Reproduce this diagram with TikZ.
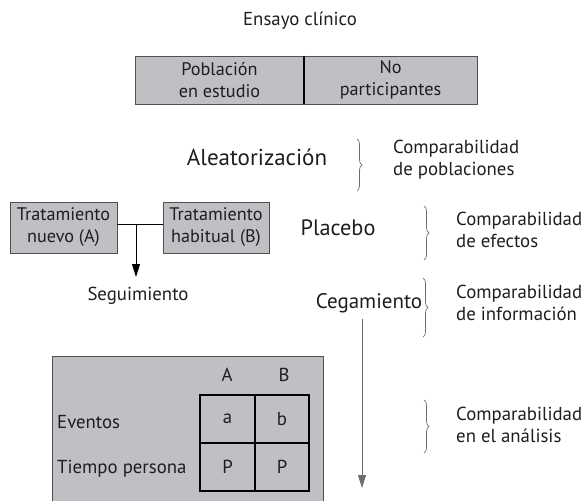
\documentclass[tikz,border=0pt]{standalone}
\usepackage{fontspec}
\setmainfont{PT Sans}
\usetikzlibrary{decorations.pathreplacing,arrows.meta}
\definecolor{boxgray}{RGB}{191,192,196}
\definecolor{edgegray}{RGB}{80,80,80}
\definecolor{linegray}{RGB}{110,110,110}
\definecolor{ink}{RGB}{30,30,30}
\begin{document}
\begin{tikzpicture}[x=1pt,y=-1pt,
  every node/.style={text=ink, inner sep=0pt},
  lbl/.style={font=\fontsize{18.8}{22}\selectfont, align=left},
  boxtxt/.style={font=\fontsize{18.8}{22}\selectfont, align=center},
  grbox/.style={draw=edgegray, line width=0.8pt, fill=boxgray, align=center, font=\fontsize{18.2}{22}\selectfont},
  cell/.style={draw=black, line width=2pt, minimum width=54.5pt, minimum height=48pt, font=\fontsize{18.8}{22}\selectfont},
  brc/.style={draw=linegray, line width=0.7pt, decorate, decoration={brace, amplitude=5pt}},
  arr/.style={-{Triangle[length=13pt,width=8pt]}, line width=0.8pt}
]
\useasboundingbox (0,0) rectangle (585,501);

% title
\node[boxtxt] (title) at (300,21) {Ensayo clínico};

% top box
\node[grbox, minimum width=169pt, minimum height=48pt] (pop) at (219.5,80) {Población\\en estudio};
\node[grbox, minimum width=173pt, minimum height=48pt] (nop) at (390.5,80) {No\\participantes};
\draw[line width=2pt] (pop.north east) -- (pop.south east);

% Aleatorizacion
\node[font=\fontsize{23}{26}\selectfont] (ale) at (257,157) {Aleatorización};
\draw[brc] (357,139) -- (357,191);
\node[lbl, anchor=west] (c1) at (393,160) {Comparabilidad\\de poblaciones};

% treatments
\node[grbox, minimum width=107pt, minimum height=51pt] (A) at (63.5,227.5) {Tratamiento\\nuevo (A)};
\node[grbox, minimum width=106pt, minimum height=51pt] (B) at (216,227.5) {Tratamiento\\habitual (B)};
\coordinate (j) at (136,224);
\coordinate (segtip) at (136,277);
\draw[line width=0.8pt] (A.east |- j) -- (B.west |- j);
\draw[arr] (j) -- (segtip);
\node[boxtxt] (seg) at (138,296) {Seguimiento};

% Placebo
\node[font=\fontsize{22.3}{26}\selectfont] (pla) at (338,228) {Placebo};
\draw[brc] (424,206) -- (424,260);
\node[lbl, anchor=west] (c2) at (456,230) {Comparabilidad\\de efectos};

% Cegamiento
\node[font=\fontsize{21}{24}\selectfont] (ceg) at (369,303) {Cegamiento};
\draw[brc] (423,278) -- (423,337);
\node[lbl, anchor=west] (c3) at (456,303) {Comparabilidad\\de información};

% main arrow
\coordinate (endtip) at (362,488);
\draw[arr, draw=linegray] (ceg.south -| endtip) ++(0,6) -- (endtip);

% analysis brace
\draw[brc] (424,400) -- (424,453);
\node[lbl, anchor=west] (c4) at (456,425) {Comparabilidad\\en el análisis};

% bottom table box
\fill[boxgray] (52,356) rectangle (323,501);
\draw[edgegray, line width=0.8pt] (52,501) -- (52,356) -- (323,356) -- (323,501);
\node[boxtxt] (hA) at (227,375) {A};
\node[boxtxt] (hB) at (284,375) {B};
\node[cell] (ca) at (227.5,419) {a};
\node[cell] (cb) at (282,419) {b};
\node[cell] (cp1) at (227.5,467) {P};
\node[cell] (cp2) at (282,467) {P};
\node[lbl, anchor=west] (ev) at (57,422) {Eventos};
\node[lbl, anchor=west] (tp) at (57,469) {Tiempo persona};
\end{tikzpicture}
\end{document}
